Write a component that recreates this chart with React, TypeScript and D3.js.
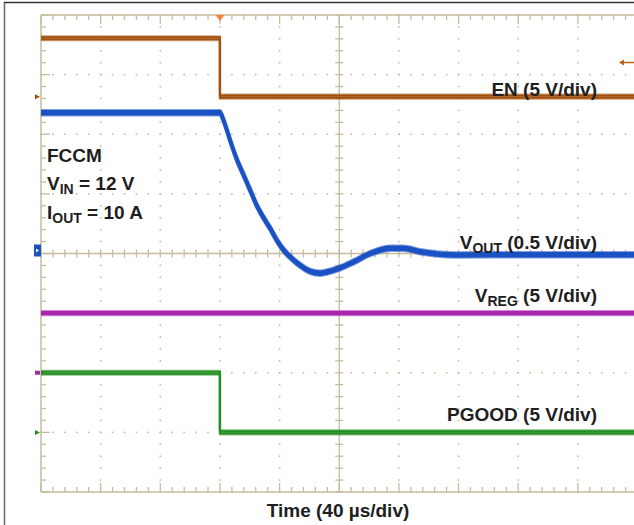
import React from "react";
import * as d3 from "d3";

// Time in µs (40 µs/div, trigger at t = 0), voltages in V
const timeDomain: [number, number] = [-120, 280];
const divRange: [number, number] = [-4, 4];

const enData: [number, number][] = [[-120, 4.9], [0, 4.9], [0, 0], [280, 0]];
const vregData: [number, number][] = [[-120, 5.0], [280, 5.0]];
const pgoodData: [number, number][] = [[-120, 5.0], [0, 5.0], [0, 0], [280, 0]];
const voutData: [number, number][] = [
  [-120, 1.18], [0, 1.18], [2.3, 1.12], [6.8, 0.95], [11.3, 0.79], [15.8, 0.66],
  [20.3, 0.53], [24.8, 0.4], [29.2, 0.3], [33.7, 0.21], [38.2, 0.11], [42.6, 0.03],
  [47.1, -0.03], [53.8, -0.1], [60.5, -0.15], [67.2, -0.166], [71.7, -0.155],
  [80.7, -0.12], [89.6, -0.07], [100.8, 0.0], [114.2, 0.044], [123, 0.044],
  [134.4, 0.015], [145.6, -0.004], [159, -0.012], [200, -0.01], [280, -0.01],
];

const channels = [
  { key: "EN", data: enData, vPerDiv: 5, groundDiv: 2.63, color: "#a2500e", smooth: false },
  { key: "VOUT", data: voutData, vPerDiv: 0.5, groundDiv: 0, color: "#1a52c4", smooth: true },
  { key: "VREG", data: vregData, vPerDiv: 5, groundDiv: -2, color: "#a826ae", smooth: false },
  { key: "PGOOD", data: pgoodData, vPerDiv: 5, groundDiv: -3, color: "#238f23", smooth: false },
];

const W = 634;
const H = 525;
const L = 41, T = 15, R = 637.5, B = 492;
const gridColor = "#c6bd9e";
const font = "'Liberation Sans', Arial, sans-serif";

export default function App() {
  const x = d3.scaleLinear().domain(timeDomain).range([L, R]);
  const yd = d3.scaleLinear().domain(divRange).range([B, T]);
  const majorX = d3.range(0, 11).map((i) => timeDomain[0] + i * 40);
  const minorX = d3.range(0, 51).map((i) => timeDomain[0] + i * 8);
  const majorY = d3.range(-4, 5);
  const minorY = d3.range(0, 41).map((i) => -4 + i * 0.2);
  const cx = x(80);
  const cy = yd(0);

  const dots: JSX.Element[] = [];
  majorX.forEach((t, i) => {
    if (i === 0 || i === 10 || i === 5) return;
    minorY.forEach((d, j) => {
      dots.push(<rect key={`vx${i}-${j}`} x={x(t) - 0.8} y={yd(d) - 0.8} width={1.6} height={1.6} fill={gridColor} />);
    });
  });
  majorY.forEach((d, i) => {
    if (d === -4 || d === 4 || d === 0) return;
    minorX.forEach((t, j) => {
      dots.push(<rect key={`hy${i}-${j}`} x={x(t) - 0.8} y={yd(d) - 0.8} width={1.6} height={1.6} fill={gridColor} />);
    });
  });

  const ticks: JSX.Element[] = [];
  minorX.forEach((t, j) => {
    const major = j % 5 === 0;
    const len = major ? 9 : 5;
    ticks.push(<line key={`tt${j}`} x1={x(t)} x2={x(t)} y1={T} y2={T + len} stroke={gridColor} strokeWidth={1.3} />);
    ticks.push(<line key={`tb${j}`} x1={x(t)} x2={x(t)} y1={B} y2={B - len} stroke={gridColor} strokeWidth={1.3} />);
    ticks.push(<line key={`tc${j}`} x1={x(t)} x2={x(t)} y1={cy - 4} y2={cy + 4} stroke={gridColor} strokeWidth={1.3} />);
  });
  minorY.forEach((d, j) => {
    const major = j % 5 === 0;
    const len = major ? 9 : 5;
    ticks.push(<line key={`tl${j}`} x1={L} x2={L + len} y1={yd(d)} y2={yd(d)} stroke={gridColor} strokeWidth={1.3} />);
    ticks.push(<line key={`tm${j}`} x1={cx - 4} x2={cx + 4} y1={yd(d)} y2={yd(d)} stroke={gridColor} strokeWidth={1.3} />);
  });

  const traces = channels.map((ch) => {
    const gen = d3
      .line<[number, number]>()
      .x((p) => x(p[0]))
      .y((p) => yd(ch.groundDiv + p[1] / ch.vPerDiv))
      .curve(ch.smooth ? d3.curveMonotoneX : d3.curveLinear);
    const d = gen(ch.data) || "";
    const sw = ch.key === "VOUT" ? 3.4 : 2.2;
    return (
      <g key={ch.key} fill="none" stroke={ch.color} strokeLinejoin="round">
        <path d={d} transform="translate(0,-2)" strokeWidth={sw} opacity={0.55} />
        <path d={d} transform="translate(0,2)" strokeWidth={sw} opacity={0.55} />
        <path d={d} transform="translate(0,-1)" strokeWidth={sw} />
        <path d={d} transform="translate(0,1)" strokeWidth={sw} />
      </g>
    );
  });

  const gy = (key: string) => {
    const ch = channels.find((c) => c.key === key)!;
    return yd(ch.groundDiv);
  };

  const labelStyle = { fontFamily: font, fontWeight: 700, fontSize: 19, fill: "#1e1e1e" } as const;
  const sub = { fontSize: 14 } as const;

  return (
    <svg width={W} height={H} style={{ position: "absolute", left: 0, top: 0, background: "#fff" }}>
      <rect x={0} y={0} width={W} height={H} fill="#fff" />
      <line x1={4.5} x2={4.5} y1={2} y2={H} stroke="#6a6a6a" strokeWidth={1.5} />
      <line x1={4} x2={W} y1={2.5} y2={2.5} stroke="#333" strokeWidth={1.5} />

      {dots}
      <line x1={L} x2={R} y1={T} y2={T} stroke={gridColor} strokeWidth={1.5} />
      <line x1={L} x2={R} y1={B} y2={B} stroke={gridColor} strokeWidth={1.5} />
      <line x1={L} x2={L} y1={T} y2={B} stroke={gridColor} strokeWidth={1.5} />
      <line x1={R} x2={R} y1={T} y2={B} stroke={gridColor} strokeWidth={1.5} />
      <line x1={L} x2={R} y1={cy} y2={cy} stroke={gridColor} strokeWidth={1.3} />
      <line x1={cx} x2={cx} y1={T} y2={B} stroke={gridColor} strokeWidth={1.3} />
      {ticks}

      {traces}

      {/* ground markers */}
      <path d={`M35,${gy("EN") - 2.5} L40,${gy("EN")} L35,${gy("EN") + 2.5} Z`} fill="#a2500e" />
      <rect x={34} y={cy - 9} width={7} height={12} fill="#1a52c4" />
      <path d={`M36,${cy - 5} L39,${cy - 3} L36,${cy - 1} Z`} fill="#fff" />
      <rect x={35} y={yd(-2) - 2} width={5} height={4} fill="#a826ae" />
      <path d={`M35,${gy("PGOOD") - 2.5} L40,${gy("PGOOD")} L35,${gy("PGOOD") + 2.5} Z`} fill="#238f23" />

      {/* trigger markers */}
      <path d={`M${x(0) - 4.5},${T} L${x(0) + 4.5},${T} L${x(0)},${T + 6} Z`} fill="#ff7f35" />
      <line x1={622} x2={W} y1={62.5} y2={62.5} stroke="#c0621c" strokeWidth={1.5} />
      <path d="M619,62.5 L624,59.5 L624,65.5 Z" fill="#c0621c" />

      {/* labels */}
      <text x={47} y={162} {...labelStyle}>FCCM</text>
      <text x={47} y={190} {...labelStyle}>
        V<tspan {...sub} dy={4}>IN</tspan>
        <tspan dy={-4}> = 12 V</tspan>
      </text>
      <text x={47} y={219} {...labelStyle}>
        I<tspan {...sub} dy={4}>OUT</tspan>
        <tspan dy={-4}> = 10 A</tspan>
      </text>

      <text x={597} y={96} textAnchor="end" {...labelStyle}>EN (5 V/div)</text>
      <text x={597} y={249} textAnchor="end" {...labelStyle}>
        V<tspan {...sub} dy={4}>OUT</tspan>
        <tspan dy={-4}> (0.5 V/div)</tspan>
      </text>
      <text x={597} y={302} textAnchor="end" {...labelStyle}>
        V<tspan {...sub} dy={4}>REG</tspan>
        <tspan dy={-4}> (5 V/div)</tspan>
      </text>
      <text x={597} y={421} textAnchor="end" {...labelStyle}>PGOOD (5 V/div)</text>

      <text x={338} y={517} textAnchor="middle" {...labelStyle}>Time (40 µs/div)</text>
    </svg>
  );
}
